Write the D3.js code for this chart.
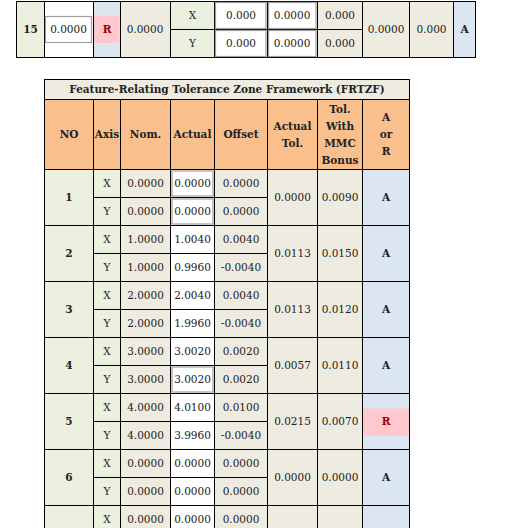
<!DOCTYPE html>
<html><head><meta charset="utf-8">
<script src="https://cdn.jsdelivr.net/npm/d3@7"></script>
<style>body{margin:0;background:#fff}text{font-family:"DejaVu Serif",serif;font-size:10.5px;fill:#222}</style>
</head><body><script>
/* DATA */
var topRow = {no: "15", input: "0.0000", flag: "R", nom: "0.0000", axes: ["X", "Y"],
  a: ["0.000", "0.000"], b: ["0.0000", "0.0000"], c: ["0.000", "0.000"], tol: "0.0000", mmc: "0.000", res: "A"};
var headers = ["NO", "Axis", "Nom.", "Actual", "Offset", ["Actual", "Tol."], ["Tol.", "With", "MMC", "Bonus"], ["A", "or", "R"]];
var featNo = ["1", "2", "3", "4", "5", "6", ""];
var nomX = ["0.0000", "1.0000", "2.0000", "3.0000", "4.0000", "0.0000", "0.0000"];
var nomY = ["0.0000", "1.0000", "2.0000", "3.0000", "4.0000", "0.0000", "0.0000"];
var actX = ["0.0000", "1.0040", "2.0040", "3.0020", "4.0100", "0.0000", "0.0000"];
var actY = ["0.0000", "0.9960", "1.9960", "3.0020", "3.9960", "0.0000", "0.0000"];
var offX = ["0.0000", "0.0040", "0.0040", "0.0020", "0.0100", "0.0000", "0.0000"];
var offY = ["0.0000", "-0.0040", "-0.0040", "0.0020", "-0.0040", "0.0000", "0.0000"];
var actTol = ["0.0000", "0.0113", "0.0113", "0.0057", "0.0215", "0.0000", ""];
var mmcTol = ["0.0090", "0.0150", "0.0120", "0.0110", "0.0070", "0.0000", ""];
var result = ["A", "A", "A", "A", "R", "A", ""];
var boxX = [true, false, false, false, false, false, false];
var boxY = [true, false, false, true, false, false, false];

/* COLOURS */
var cGreen = "#ebf1de", cBeige = "#eeece1", cBlue = "#dce6f1", cOrange = "#f9c08e",
    cPink = "#ffc7ce", cRed = "#9c0006";

var svg = d3.select("body").append("svg").attr("width", 507).attr("height", 528);

function cell(x, y, w, h, fill) {
  svg.append("rect").attr("x", x).attr("y", y).attr("width", w).attr("height", h)
    .attr("fill", fill).attr("stroke", "#000").attr("stroke-width", 1);
}
function txt(x, y, s, bold, color) {
  svg.append("text").attr("x", x).attr("y", y + 3.7).attr("text-anchor", "middle")
    .attr("font-weight", bold ? "bold" : null).style("fill", color || "#222").text(s);
}
function box(x, y, w, h) {
  svg.append("rect").attr("x", x).attr("y", y).attr("width", w).attr("height", h)
    .attr("fill", "#fff").attr("stroke", "#a0a0a0").attr("stroke-width", 1.2);
}

/* TOP ROW */
var tx = [16.5, 44.5, 93.5, 120.5, 170.5, 214.5, 267.5, 317.5, 362.5, 409.5, 453.5, 475.5];
var ty = 1.5, th = 56;
var tFill = [cGreen, "#fff", cBlue, cBeige, cGreen, "#fff", "#fff", cBeige, cBeige, cBeige, cBlue];
[0, 1, 2, 3, 8, 9, 10].forEach(function(i) { cell(tx[i], ty, tx[i+1]-tx[i], th, tFill[i]); });
[4, 5, 6, 7].forEach(function(i) {
  cell(tx[i], ty, tx[i+1]-tx[i], th/2, tFill[i]);
  cell(tx[i], ty+th/2, tx[i+1]-tx[i], th/2, tFill[i]);
});
txt((tx[0]+tx[1])/2, 29, topRow.no, true);
box(45.5, 16.5, 46, 26); txt(68.5, 29, topRow.input);
svg.append("rect").attr("x", 94).attr("y", 16).attr("width", 25.5).attr("height", 27).attr("fill", cPink);
txt(107, 29, topRow.flag, true, cRed);
txt(145, 29, topRow.nom);
topRow.axes.forEach(function(a, k) {
  var cy = 15 + k*28;
  txt(192.5, cy, a);
  box(215.5, 2.5 + k*28, 50.5, 26); txt(241, cy, topRow.a[k]);
  box(268.5, 2.5 + k*28, 47.5, 26); txt(292, cy, topRow.b[k]);
  txt(340, cy, topRow.c[k]);
});
txt(386, 29, topRow.tol); txt(431.5, 29, topRow.mmc); txt(464.5, 29, topRow.res, true);

/* MAIN TABLE */
var cx = [44.5, 93.5, 120.5, 170.5, 214.5, 267.5, 317.5, 362.5, 409.5];
cell(cx[0], 79.5, cx[8]-cx[0], 20, cBeige);
svg.append("text").attr("x", (cx[0]+cx[8])/2).attr("y", 93).attr("text-anchor", "middle")
  .attr("font-weight", "bold").text("Feature-Relating Tolerance Zone Framework (FRTZF)");
headers.forEach(function(h, i) {
  cell(cx[i], 99.5, cx[i+1]-cx[i], 70, cOrange);
  var lines = Array.isArray(h) ? h : [h];
  lines.forEach(function(l, k) {
    txt((cx[i]+cx[i+1])/2, 134.5 + (k - (lines.length-1)/2)*17, l, true);
  });
});

var y = d3.scaleBand().domain(d3.range(featNo.length)).range([169.5, 169.5 + 56*featNo.length]);
featNo.forEach(function(n, r) {
  var y0 = y(r), hh = y.bandwidth(), mid = y0 + hh/2;
  cell(cx[0], y0, cx[1]-cx[0], hh, cGreen);
  cell(cx[5], y0, cx[6]-cx[5], hh, cBeige);
  cell(cx[6], y0, cx[7]-cx[6], hh, cBeige);
  cell(cx[7], y0, cx[8]-cx[7], hh, cBlue);
  var sub = [[ "X", nomX[r], actX[r], offX[r], boxX[r]], ["Y", nomY[r], actY[r], offY[r], boxY[r]]];
  sub.forEach(function(s, k) {
    var sy = y0 + k*hh/2, cyy = sy + hh/4;
    cell(cx[1], sy, cx[2]-cx[1], hh/2, cGreen);
    cell(cx[2], sy, cx[3]-cx[2], hh/2, cBeige);
    cell(cx[3], sy, cx[4]-cx[3], hh/2, "#fff");
    cell(cx[4], sy, cx[5]-cx[4], hh/2, cBeige);
    if (s[4]) box(cx[3]+1.5, sy+1.5, cx[4]-cx[3]-3, hh/2-3);
    txt((cx[1]+cx[2])/2, cyy, s[0]);
    txt((cx[2]+cx[3])/2, cyy, s[1]);
    txt((cx[3]+cx[4])/2, cyy, s[2]);
    txt((cx[4]+cx[5])/2, cyy, s[3]);
  });
  txt((cx[0]+cx[1])/2, mid, n, true);
  txt((cx[5]+cx[6])/2, mid, actTol[r]);
  txt((cx[6]+cx[7])/2, mid, mmcTol[r]);
  if (result[r] === "R") {
    svg.append("rect").attr("x", cx[7]+0.5).attr("y", mid-13).attr("width", cx[8]-cx[7]-1).attr("height", 27).attr("fill", cPink);
    txt((cx[7]+cx[8])/2, mid, result[r], true, cRed);
  } else txt((cx[7]+cx[8])/2, mid, result[r], true);
});
</script></body></html>
